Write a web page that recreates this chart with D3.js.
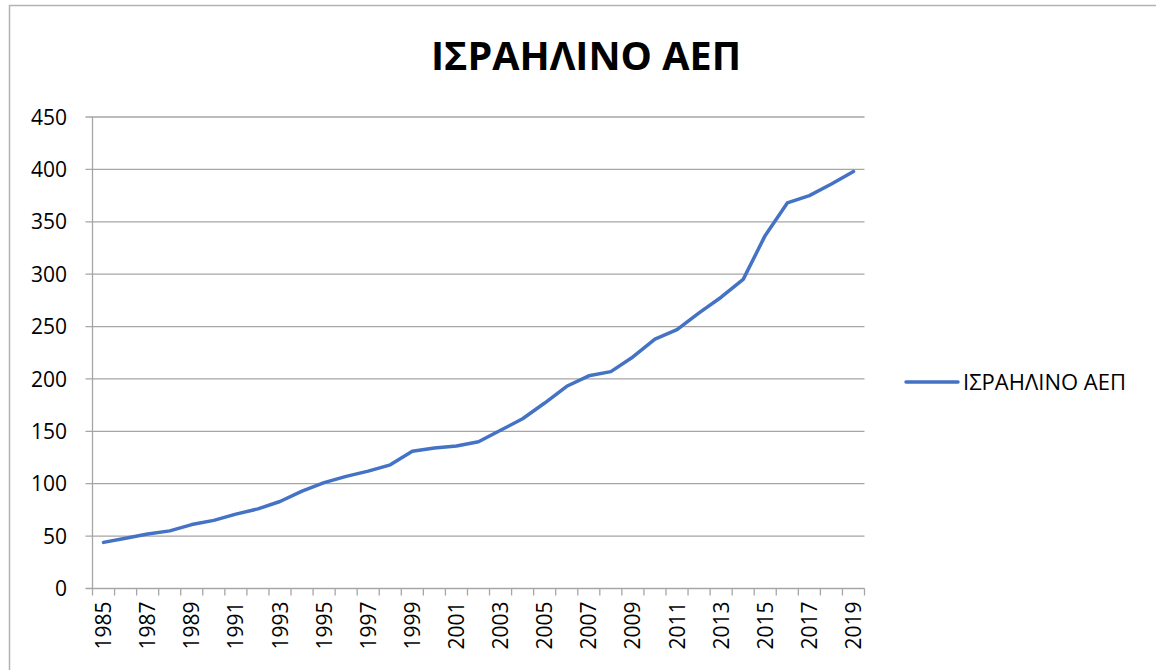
<!DOCTYPE html>
<html>
<head>
<meta charset="utf-8">
<script src="https://cdn.jsdelivr.net/npm/d3@7"></script>
<style>
  body { margin: 0; background: #fff; }
  svg { display: block; font-family: "Open Sans", sans-serif; }
</style>
</head>
<body>
<svg id="chart" width="1156" height="670"></svg>
<script>
// data
const years = d3.range(1985, 2020).map(String);
const gdp = [
  44, 48, 52, 55, 61, 65, 71, 76, 83, 93,
  101, 107, 112, 118, 131, 134, 136, 140, 151, 162,
  177, 193, 203, 207, 221, 238, 247, 263, 278, 295,
  337, 368, 375, 386, 398
];
const yTicks = [0, 50, 100, 150, 200, 250, 300, 350, 400, 450];
const title = "ΙΣΡΑΗΛΙΝΟ ΑΕΠ";

const svg = d3.select("#chart");
const plotLeft = 92.5, plotRight = 864.5, plotTop = 117, plotBottom = 588.5;

// outer chart frame
svg.append("rect")
  .attr("x", 9.5).attr("y", 5.5)
  .attr("width", 1200).attr("height", 700)
  .attr("fill", "none").attr("stroke", "#b3b3b3").attr("stroke-width", 1.5);

const x = d3.scaleBand().domain(years).range([plotLeft, plotRight]);
const y = d3.scaleLinear().domain([0, 450]).range([plotBottom, plotTop]);

// gridlines
svg.append("g")
  .selectAll("line")
  .data(yTicks)
  .join("line")
  .attr("x1", plotLeft - 7).attr("x2", plotRight)
  .attr("y1", (d) => y(d)).attr("y2", (d) => y(d))
  .attr("stroke", "#a6a6a6").attr("stroke-width", 1.3);

// y axis line
svg.append("line")
  .attr("x1", plotLeft).attr("x2", plotLeft)
  .attr("y1", plotTop).attr("y2", plotBottom)
  .attr("stroke", "#a6a6a6").attr("stroke-width", 1.3);

// y labels
svg.append("g")
  .selectAll("text")
  .data(yTicks)
  .join("text")
  .attr("x", 67).attr("y", (d) => y(d))
  .attr("dy", "0.36em")
  .attr("text-anchor", "end")
  .attr("font-size", 21)
  .attr("fill", "#000")
  .text((d) => d);

// x ticks at category boundaries
const bounds = years.map((d) => x(d)).concat([plotRight]);
svg.append("g")
  .selectAll("line")
  .data(bounds)
  .join("line")
  .attr("x1", (d) => d).attr("x2", (d) => d)
  .attr("y1", plotBottom).attr("y2", plotBottom + 7)
  .attr("stroke", "#a6a6a6").attr("stroke-width", 1.3);

// x labels, every other year, rotated
svg.append("g")
  .selectAll("text")
  .data(years.filter((d, i) => i % 2 === 0))
  .join("text")
  .attr("transform", (d) => `translate(${x(d) + x.bandwidth() / 2},${plotBottom + 13}) rotate(-90)`)
  .attr("dy", "0.36em")
  .attr("text-anchor", "end")
  .attr("font-size", 21)
  .attr("fill", "#000")
  .text((d) => d);

// line
const line = d3.line()
  .x((d, i) => x(years[i]) + x.bandwidth() / 2)
  .y((d) => y(d));

svg.append("path")
  .datum(gdp)
  .attr("d", line)
  .attr("fill", "none")
  .attr("stroke", "#4472c4")
  .attr("stroke-width", 3.5)
  .attr("stroke-linejoin", "round")
  .attr("stroke-linecap", "round");

// title
svg.append("text")
  .attr("x", 586).attr("y", 70)
  .attr("text-anchor", "middle")
  .attr("font-size", 39.5)
  .attr("font-weight", "bold")
  .attr("fill", "#000")
  .text(title);

// legend
svg.append("line")
  .attr("x1", 906).attr("x2", 958)
  .attr("y1", 382).attr("y2", 382)
  .attr("stroke", "#4472c4").attr("stroke-width", 3.5)
  .attr("stroke-linecap", "round");
svg.append("text")
  .attr("x", 963).attr("y", 382)
  .attr("dy", "0.36em")
  .attr("font-size", 22)
  .attr("fill", "#000")
  .text(title);
</script>
</body>
</html>
